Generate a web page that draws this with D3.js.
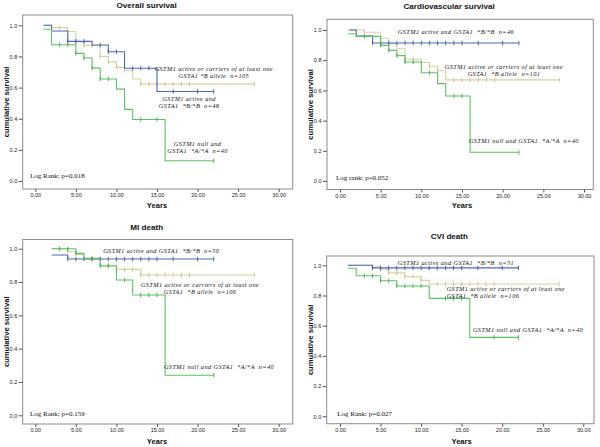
<!DOCTYPE html>
<html>
<head>
<meta charset="utf-8">
<script src="https://cdn.jsdelivr.net/npm/d3@7"></script>
<style>
  body { margin: 0; background: #fff; }
  .tick text { font-family: Arial, "Liberation Sans", sans-serif; font-size: 5.5px; fill: #222; }
  .tick line { stroke: #555; }
  .ttl { font-family: Arial, "Liberation Sans", sans-serif; font-weight: bold; fill: #111; }
  .ann { font-family: "Times New Roman", "Liberation Serif", serif; font-style: italic; font-size: 6.3px; letter-spacing: 0.4px; fill: #111; white-space: pre; }
  .lr { font-family: "Times New Roman", "Liberation Serif", serif; font-size: 7px; fill: #111; }
</style>
</head>
<body>
<script>
// 軸の目盛
var xTicks = [0, 5, 10, 15, 20, 25, 30];
var yTicks = [0, 0.2, 0.4, 0.6, 0.8, 1.0];

// Overall survival
var overallBlueTime = [1, 2, 4, 7, 9, 11, 15, 22];
var overallBlueSurv = [1.0, 0.963, 0.897, 0.873, 0.83, 0.724, 0.575, 0.575];
var overallBlueCens = [4, 5, 6, 8, 9, 10, 12, 13, 14, 17, 20, 22];
var overallTanTime = [1, 2, 4, 5, 6, 8, 9, 10, 11, 12, 13, 27];
var overallTanSurv = [1.0, 0.985, 0.96, 0.895, 0.87, 0.80, 0.765, 0.73, 0.71, 0.655, 0.622, 0.622];
var overallTanCens = [3, 5, 6, 7, 8, 9, 10, 11, 13, 14, 15, 16, 17, 18, 19, 27];
var overallGreenTime = [1, 2, 5, 6, 7, 8, 10, 11, 12, 16, 22];
var overallGreenSurv = [0.975, 0.875, 0.82, 0.79, 0.725, 0.655, 0.59, 0.46, 0.395, 0.13, 0.13];
var overallGreenCens = [3, 4, 5, 6, 7, 8, 9, 13, 15, 22];

// Cardiovascular survival
var cardioBlueTime = [1.15, 2, 4, 22];
var cardioBlueSurv = [1.0, 0.96, 0.914, 0.914];
var cardioBlueCens = [4, 5, 6, 7, 8, 9, 10, 11, 12, 13, 14, 15, 17, 20, 22];
var cardioTanTime = [1, 3, 5, 6, 7, 8, 10, 11, 12, 13, 27];
var cardioTanSurv = [1.0, 0.985, 0.945, 0.91, 0.876, 0.806, 0.785, 0.76, 0.73, 0.67, 0.67];
var cardioTanCens = [3, 5, 8, 9, 10, 11, 12, 14, 15, 16, 17, 18, 19, 27];
var cardioGreenTime = [1, 2, 5, 6, 7, 8, 10, 12, 13, 16, 22];
var cardioGreenSurv = [0.975, 0.958, 0.898, 0.865, 0.83, 0.788, 0.717, 0.645, 0.563, 0.19, 0.19];
var cardioGreenCens = [3, 5, 6, 7, 8, 9, 11, 14, 15, 22];

// MI death
var miBlueTime = [2, 4, 22];
var miBlueSurv = [0.962, 0.938, 0.938];
var miBlueCens = [4, 5, 6, 7, 8, 9, 10, 11, 12, 13, 14, 15, 17, 20, 22];
var miTanTime = [2, 4, 5, 6, 8, 10, 13, 27];
var miTanSurv = [1.0, 0.985, 0.965, 0.945, 0.90, 0.876, 0.842, 0.842];
var miTanCens = [4, 7, 9, 11, 12, 13, 14, 15, 16, 17, 18, 19, 27];
var miGreenTime = [2, 5, 6, 8, 10, 12, 16, 22];
var miGreenSurv = [1.0, 0.972, 0.938, 0.896, 0.812, 0.722, 0.24, 0.24];
var miGreenCens = [3, 4, 5, 7, 8, 9, 11, 13, 14, 15, 22];

// CVI death
var cviBlueTime = [1, 4, 22];
var cviBlueSurv = [1.0, 0.983, 0.983];
var cviBlueCens = [4, 5, 6, 7, 8, 9, 10, 11, 12, 13, 14, 15, 17, 20, 22];
var cviTanTime = [1, 4, 5, 6, 8, 10, 11, 27];
var cviTanSurv = [1.0, 0.99, 0.972, 0.95, 0.925, 0.90, 0.876, 0.876];
var cviTanCens = [5, 6, 7, 8, 9, 10, 12, 13, 14, 15, 16, 17, 18, 19, 27];
var cviGreenTime = [1, 2, 5, 7, 11, 16, 22];
var cviGreenSurv = [0.98, 0.931, 0.898, 0.863, 0.781, 0.523, 0.523];
var cviGreenCens = [3, 4, 5, 6, 7, 8, 9, 10, 13, 14, 15, 19, 22];

// テキスト
var titles = ["Overall survival", "Cardiovascular survival", "MI death", "CVI death"];
var logRanks = ["Log Rank: p=0.018", "Log rank: p=0.052", "Log Rank: p=0.159", "Log Rank: p=0.027"];
var overallLabels = [["GSTM1 active or carriers of at least one", "GSTA1 *B allele  n=105"],
                     ["GSTM1 active and", "GSTA1  *B/*B  n=48"],
                     ["GSTM1 null and", "GSTA1  *A/*A  n=40"]];
var cardioLabels = [["GSTM1 active and GSTA1  *B/*B  n=46"],
                    ["GSTM1 active or carriers of at least one", "GSTA1  *B allele  n=101"],
                    ["GSTM1 null and GSTA1  *A/*A  n=40"]];
var miLabels = [["GSTM1 active and GSTA1  *B/*B  n=50"],
                ["GSTM1 active or carriers of at least one", "GSTA1  *B allele  n=106"],
                ["GSTM1 null and GSTA1  *A/*A  n=40"]];
var cviLabels = [["GSTM1 active and GSTA1  *B/*B  n=51"],
                 ["GSTM1 active or carriers of at least one", "GSTA1  *B allele  n=106"],
                 ["GSTM1 null and GSTA1  *A/*A  n=40"]];

// 色
var blue = "#4d69b3", tan = "#d9d2a2", green = "#5cc264";
var blueDark = "#3a54a0", tanDark = "#c6bd87", greenDark = "#3aaa46";

var width = 600, height = 447;
var svg = d3.select("body").append("svg").attr("width", width).attr("height", height);
svg.append("rect").attr("width", width).attr("height", height).attr("fill", "#fff");

function curve(t, s, c, col, dark) { return { t: t, s: s, c: c, col: col, dark: dark }; }

// パネルの配置 (ラベル位置はデータ座標)
var panels = [
  { title: titles[0], logRank: logRanks[0], labels: overallLabels,
    frame: [22.7, 15, 292.7, 189], xr: [35.3, 278.7], yr: [181, 25.3], titleY: 8, yLabX: 6, xLabY: 207.5,
    labelPos: [[22.0, 0.723, "middle"], [18.95, 0.529, "middle"], [20.0, 0.238, "middle"]], lrPos: [-0.65, 0.034],
    curves: [curve(overallTanTime, overallTanSurv, overallTanCens, tan, tanDark),
             curve(overallBlueTime, overallBlueSurv, overallBlueCens, blue, blueDark),
             curve(overallGreenTime, overallGreenSurv, overallGreenCens, green, greenDark)] },
  { title: titles[1], logRank: logRanks[1], labels: cardioLabels,
    frame: [327, 19.3, 593.3, 189.5], xr: [340, 584], yr: [181, 30], titleY: 9, yLabX: 310, xLabY: 207.5,
    labelPos: [[14.26, 0.987, "middle"], [20.16, 0.759, "middle"], [22.6, 0.263, "middle"]], lrPos: [-0.49, 0.022],
    curves: [curve(cardioTanTime, cardioTanSurv, cardioTanCens, tan, tanDark),
             curve(cardioBlueTime, cardioBlueSurv, cardioBlueCens, blue, blueDark),
             curve(cardioGreenTime, cardioGreenSurv, cardioGreenCens, green, greenDark)] },
  { title: titles[2], logRank: logRanks[2], labels: miLabels,
    frame: [22.7, 239.5, 292.7, 424], xr: [35.3, 278.7], yr: [415.3, 248.7], titleY: 230, yLabX: 6, xLabY: 443.5,
    labelPos: [[15.53, 0.99, "middle"], [20.3, 0.782, "middle"], [22.64, 0.294, "middle"]], lrPos: [-0.65, 0.01],
    curves: [curve(miTanTime, miTanSurv, miTanCens, tan, tanDark),
             curve(miBlueTime, miBlueSurv, miBlueCens, blue, blueDark),
             curve(miGreenTime, miGreenSurv, miGreenCens, green, greenDark)] },
  { title: titles[3], logRank: logRanks[3], labels: cviLabels,
    frame: [326.7, 256, 594, 423.7], xr: [340, 583.3], yr: [416.3, 265.3], titleY: 238.5, yLabX: 310, xLabY: 443.5,
    labelPos: [[14.3, 1.017, "middle"], [13.15, 0.847, "start"], [23.18, 0.57, "middle"]], lrPos: [-0.33, 0.017],
    curves: [curve(cviTanTime, cviTanSurv, cviTanCens, tan, tanDark),
             curve(cviBlueTime, cviBlueSurv, cviBlueCens, blue, blueDark),
             curve(cviGreenTime, cviGreenSurv, cviGreenCens, green, greenDark)] }
];

// 打ち切り時点の生存率
function survAt(c, time) {
  var i = d3.bisectRight(c.t, time) - 1;
  return c.s[Math.max(0, i)];
}

panels.forEach(function(p) {
  var xScale = d3.scaleLinear().domain([0, 30]).range(p.xr);
  var yScale = d3.scaleLinear().domain([0, 1]).range(p.yr);
  var g = svg.append("g");
  var f = p.frame;

  // 枠
  g.append("rect")
    .attr("x", f[0]).attr("y", f[1]).attr("width", f[2] - f[0]).attr("height", f[3] - f[1])
    .attr("fill", "none").attr("stroke", "#8c8c8c").attr("stroke-width", 1);

  // 軸
  g.append("g")
    .attr("transform", "translate(" + f[0] + ",0)")
    .call(d3.axisLeft(yScale).tickValues(yTicks).tickFormat(d3.format(".1f")).tickSize(4).tickPadding(1.5))
    .call(function(a) { a.select(".domain").remove(); });
  g.append("g")
    .attr("transform", "translate(0," + f[3] + ")")
    .call(d3.axisBottom(xScale).tickValues(xTicks).tickFormat(d3.format(".2f")).tickSize(3).tickPadding(1.5))
    .call(function(a) { a.select(".domain").remove(); });

  // 生存曲線
  var line = d3.line()
    .x(function(d) { return xScale(d[0]); })
    .y(function(d) { return yScale(d[1]); })
    .curve(d3.curveStepAfter);

  p.curves.forEach(function(c) {
    g.append("path")
      .attr("d", line(d3.zip(c.t, c.s)))
      .attr("fill", "none").attr("stroke", c.col).attr("stroke-width", 1.1);
    g.selectAll(null)
      .data(c.c)
      .enter()
      .append("line")
      .attr("x1", function(d) { return xScale(d); })
      .attr("x2", function(d) { return xScale(d); })
      .attr("y1", function(d) { return yScale(survAt(c, d)) - 2.2; })
      .attr("y2", function(d) { return yScale(survAt(c, d)) + 2.2; })
      .attr("stroke", c.dark).attr("stroke-width", 0.9);
  });

  // タイトルとラベル
  var cx = (p.xr[0] + p.xr[1]) / 2;
  g.append("text").attr("class", "ttl").attr("x", (f[0] + f[2]) / 2 - 11).attr("y", p.titleY)
    .attr("text-anchor", "middle").style("font-size", "8.1px").text(p.title);
  g.append("text").attr("class", "ttl").attr("x", cx).attr("y", p.xLabY)
    .attr("text-anchor", "middle").style("font-size", "7.6px").text("Years");
  g.append("text").attr("class", "ttl")
    .attr("transform", "translate(" + (p.yLabX + 2.5) + "," + ((f[1] + f[3]) / 2) + ") rotate(-90)")
    .attr("text-anchor", "middle").style("font-size", "7.6px").text("cumulative survival");

  p.labels.forEach(function(lines, i) {
    var pos = p.labelPos[i];
    var t = g.append("text").attr("class", "ann").attr("text-anchor", pos[2]);
    lines.forEach(function(s, j) {
      t.append("tspan").attr("x", xScale(pos[0])).attr("y", yScale(pos[1]) + 2.2 + j * 7.2).text(s);
    });
  });

  g.append("text").attr("class", "lr")
    .attr("x", xScale(p.lrPos[0])).attr("y", yScale(p.lrPos[1]) + 2.4)
    .text(p.logRank);
});
</script>
</body>
</html>
